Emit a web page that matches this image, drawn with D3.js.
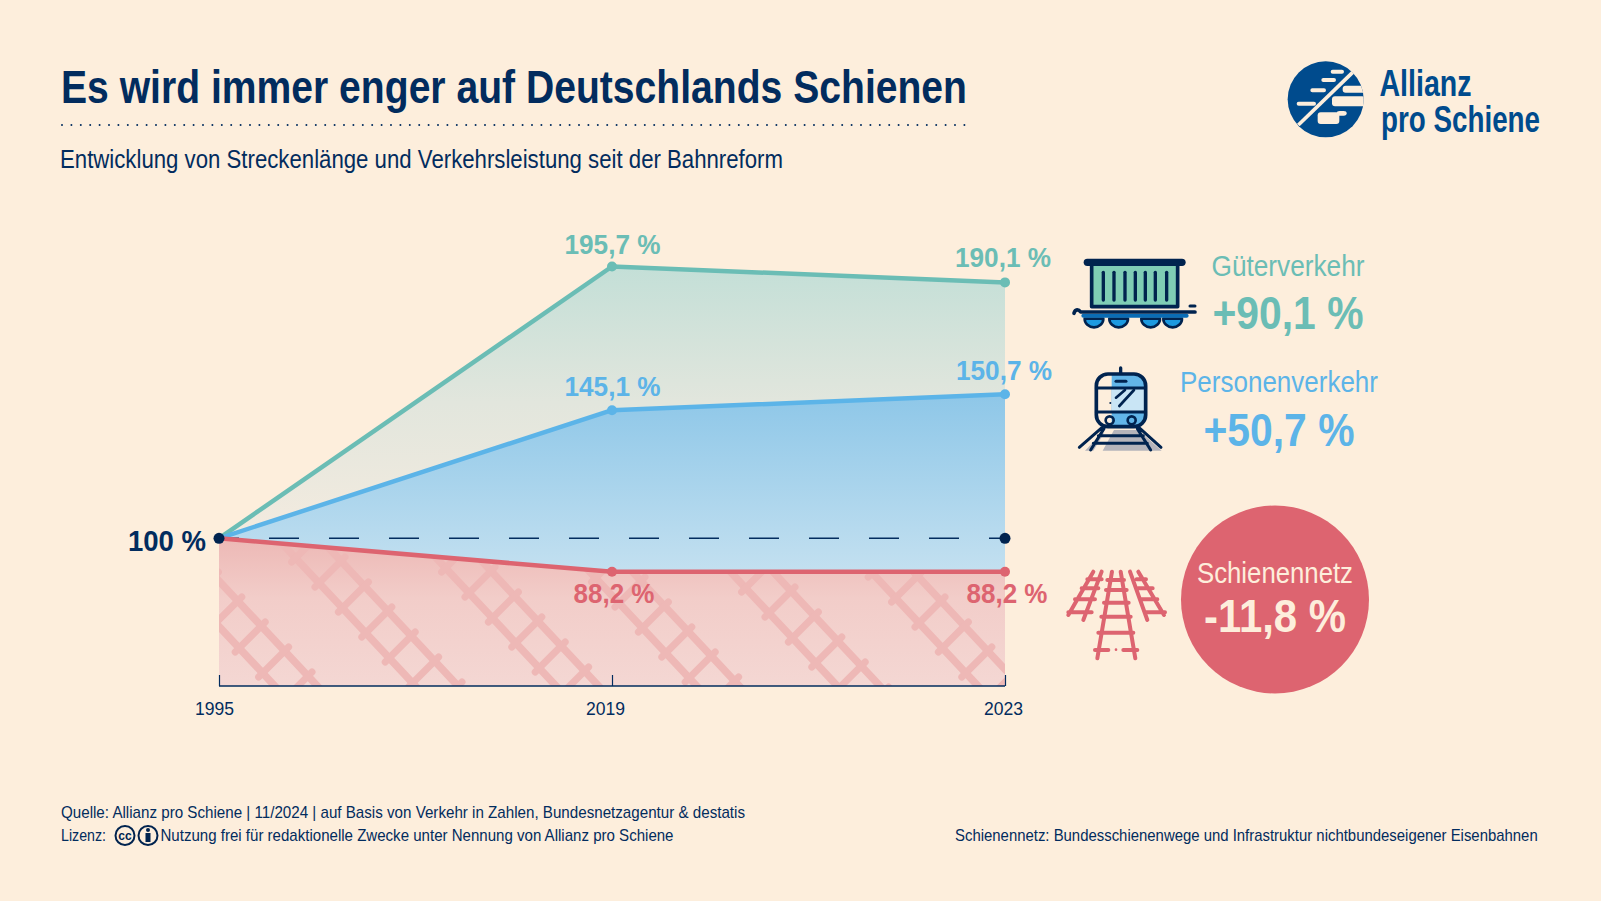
<!DOCTYPE html>
<html>
<head>
<meta charset="utf-8">
<script src="https://cdn.jsdelivr.net/npm/d3@7"></script>
<style>
  html, body { margin: 0; padding: 0; background: #fdeedc; }
  svg { display: block; }
  text { font-family: "Liberation Sans", sans-serif; }
</style>
</head>
<body>
<div class="chart"></div>
<script>
// DATA ------------------------------
const years = ["1995", "2019", "2023"];
const gueter = [100, 195.7, 190.1];
const personen = [100, 145.1, 150.7];
const netz = [100, 88.2, 88.2];
const basis = [100, 100, 100];

const title = "Es wird immer enger auf Deutschlands Schienen";
const subtitle = "Entwicklung von Streckenlänge und Verkehrsleistung seit der Bahnreform";
const source = "Quelle: Allianz pro Schiene | 11/2024 | auf Basis von Verkehr in Zahlen, Bundesnetzagentur & destatis";
const licence = "Nutzung frei für redaktionelle Zwecke unter Nennung von Allianz pro Schiene";
const note = "Schienennetz: Bundesschienenwege und Infrastruktur nichtbundeseigener Eisenbahnen";

const dark = "#022c5e", navy = "#00234f", green = "#6bbdb5", blue = "#5cb4e8", red = "#dd6470", cream = "#fdeedc";

// the source uses a condensed face, so squeeze the text to the measured width
function fit(sel, w) {
    return sel.attr("textLength", w).attr("lengthAdjust", "spacingAndGlyphs");
}

// CHART INIT ------------------------------
const svg = d3.select(".chart").append("svg")
    .attr("width", 1601)
    .attr("height", 901);

const defs = svg.append("defs");

function gradient(id, y1, y2, stops) {
    const g = defs.append("linearGradient")
        .attr("id", id)
        .attr("gradientUnits", "userSpaceOnUse")
        .attr("x1", 0).attr("x2", 0).attr("y1", y1).attr("y2", y2);
    stops.forEach(s => g.append("stop").attr("offset", s[0]).attr("stop-color", s[1]));
}
gradient("g-green", 265, 540, [[0, "#c3dfd7"], [0.5, "#e2e6dd"], [1, "#f4ebdf"]]);
gradient("g-blue", 395, 572, [[0, "#8ec7e8"], [1, "#c3e0f0"]]);
gradient("g-red", 540, 686, [[0, "#edb9b6"], [0.4, "#f2cdc9"], [1, "#f4d7d3"]]);

const xScale = d3.scalePoint()
    .domain(years)
    .range([219, 1005]);

const yScale = d3.scaleLinear()
    .domain([48, 195.7])
    .range([686, 266.5]);

const rows = years.map((y, i) => ({ year: y, g: gueter[i], p: personen[i], n: netz[i], b: basis[i] }));

const area = (top, bottom) => d3.area()
    .x(d => xScale(d.year))
    .y0(bottom)
    .y1(d => yScale(d[top]));

svg.append("path").datum(rows).attr("fill", "url(#g-green)")
    .attr("d", area("g", d => yScale(d.p)));
svg.append("path").datum(rows).attr("fill", "url(#g-blue)")
    .attr("d", area("p", d => yScale(d.n)));
const redArea = area("n", () => yScale.range()[0]);
svg.append("path").datum(rows).attr("fill", "url(#g-red)")
    .attr("d", redArea);

// tracks in the red area
defs.append("clipPath").attr("id", "clip-red")
    .append("path").datum(rows).attr("d", redArea);

const tracks = svg.append("g")
    .attr("clip-path", "url(#clip-red)")
    .attr("fill", "none")
    .attr("stroke", "#eeb8b6")
    .attr("stroke-linecap", "round");

[-1, 0, 1, 2, 3, 4].forEach(i => {
    const ox = 315 + 150 * i, oy = 587 + 10 * i;   // first tie of this track
    const dirX = 23.4, dirY = 25;
    const t = tracks.append("g").attr("transform", `translate(${ox},${oy})`);
    // rails
    [[4, -4], [26, -26]].forEach(r => {
        t.append("line")
            .attr("x1", r[0] - dirX * 4).attr("y1", r[1] - dirY * 4)
            .attr("x2", r[0] + dirX * 8).attr("y2", r[1] + dirY * 8)
            .attr("stroke-width", 7.5);
    });
    // ties
    d3.range(-4, 8).forEach(k => {
        t.append("line")
            .attr("x1", dirX * k).attr("y1", dirY * k)
            .attr("x2", dirX * k + 30).attr("y2", dirY * k - 30)
            .attr("stroke-width", 7);
    });
});

// reference line
svg.append("path").datum(rows)
    .attr("fill", "none")
    .attr("stroke", dark)
    .attr("stroke-width", 1.5)
    .attr("stroke-dasharray", "30 30")
    .attr("stroke-dashoffset", 10)
    .attr("d", d3.line().x(d => xScale(d.year)).y(d => yScale(d.b)));

// axis
const labelShift = [-5, -7, -2];
const xAxis = svg.append("g")
    .attr("transform", "translate(0,686)")
    .call(d3.axisBottom(xScale).tickSize(-11).tickPadding(0));
xAxis.select(".domain").attr("stroke", dark).attr("stroke-width", 1.3).attr("d", "M219,0H1005");
xAxis.selectAll(".tick line").attr("stroke", dark).attr("stroke-width", 1.2);
fit(xAxis.selectAll(".tick text"), 39)
    .attr("fill", dark)
    .attr("font-size", 19)
    .attr("text-anchor", "middle")
    .attr("dx", (d, i) => labelShift[i])
    .attr("y", 29)
    .attr("dy", 0);

// series
const series = [
    { values: gueter, color: green, width: 96, labelY: [254, 267], labelX: [612.5, 1003] },
    { values: personen, color: blue, width: 96, labelY: [396, 380], labelX: [612.5, 1004] },
    { values: netz, color: red, width: 81, labelY: [603, 603], labelX: [614, 1007] }
];
const fmt = v => String(v).replace(".", ",") + " %";

series.forEach(s => {
    svg.append("path").datum(s.values)
        .attr("fill", "none")
        .attr("stroke", s.color)
        .attr("stroke-width", 4.5)
        .attr("stroke-linejoin", "round")
        .attr("d", d3.line().x((d, i) => xScale(years[i])).y(d => yScale(d)));
});
series.forEach(s => {
    years.forEach((y, i) => {
        if (i == 0) return;
        svg.append("circle")
            .attr("cx", xScale(y))
            .attr("cy", yScale(s.values[i]))
            .attr("r", 5)
            .attr("fill", s.color);
        fit(svg.append("text"), s.width)
            .attr("x", s.labelX[i - 1])
            .attr("y", s.labelY[i - 1])
            .attr("text-anchor", "middle")
            .attr("font-size", 28)
            .attr("font-weight", 700)
            .attr("fill", s.color)
            .text(fmt(s.values[i]));
    });
});

svg.selectAll(".base-dot")
    .data([years[0], years[2]])
    .join("circle")
    .attr("class", "base-dot")
    .attr("cx", d => xScale(d))
    .attr("cy", yScale(100))
    .attr("r", 5.5)
    .attr("fill", navy);

fit(svg.append("text"), 78)
    .attr("x", 206).attr("y", 551)
    .attr("text-anchor", "end")
    .attr("font-size", 30)
    .attr("font-weight", 700)
    .attr("fill", dark)
    .text("100 %");

// HEADER ------------------------------
fit(svg.append("text"), 906)
    .attr("x", 61).attr("y", 103)
    .attr("font-size", 46)
    .attr("font-weight", 700)
    .attr("fill", dark)
    .text(title);

svg.append("line")
    .attr("x1", 62).attr("x2", 965)
    .attr("y1", 125).attr("y2", 125)
    .attr("stroke", dark)
    .attr("stroke-width", 2)
    .attr("stroke-linecap", "round")
    .attr("stroke-dasharray", "0 9.4");

fit(svg.append("text"), 723)
    .attr("x", 60).attr("y", 167.5)
    .attr("font-size", 25)
    .attr("fill", dark)
    .text(subtitle);

// LEGEND ------------------------------
function legend(name, value, color, x, y1, y2, w1, w2) {
    fit(svg.append("text"), w1).attr("x", x).attr("y", y1)
        .attr("text-anchor", "middle").attr("font-size", 30)
        .attr("fill", color).text(name);
    fit(svg.append("text"), w2).attr("x", x).attr("y", y2)
        .attr("text-anchor", "middle").attr("font-size", 46).attr("font-weight", 700)
        .attr("fill", color).text(value);
}
const delta = v => (v >= 100 ? "+" : "-") + fmt(Math.round(Math.abs(v - 100) * 10) / 10);
legend("Güterverkehr", delta(gueter[2]), green, 1288, 276, 329, 153, 151);
legend("Personenverkehr", delta(personen[2]), blue, 1279, 392, 446, 198, 151);

svg.append("circle").attr("cx", 1275).attr("cy", 599.5).attr("r", 94).attr("fill", red);
legend("Schienennetz", delta(netz[2]), cream, 1275, 582.5, 632, 156, 142);

// wagon icon
const wagon = svg.append("g").attr("transform", "translate(1030,230) scale(0.3333)")
    .attr("fill", "none").attr("stroke-linecap", "round").attr("stroke-linejoin", "round");
wagon.append("rect").attr("x", 185).attr("y", 100).attr("width", 258).attr("height", 130)
    .attr("fill", "#7fcdb5").attr("stroke", navy).attr("stroke-width", 11);
wagon.append("line").attr("x1", 172).attr("x2", 456).attr("y1", 97).attr("y2", 97)
    .attr("stroke", navy).attr("stroke-width", 22);
[220, 252, 285, 316, 346, 376, 410].forEach(x => {
    wagon.append("line").attr("x1", x).attr("x2", x).attr("y1", 127).attr("y2", 210)
        .attr("stroke", navy).attr("stroke-width", 10);
});
[192, 266, 362, 428].forEach(x => {
    wagon.append("path").attr("d", `M${x - 28},266A28,26 0 0,0 ${x + 28},266Z`)
        .attr("fill", "#1d9ae0").attr("stroke", navy).attr("stroke-width", 8);
});
wagon.append("line").attr("x1", 160).attr("x2", 470).attr("y1", 257).attr("y2", 257)
    .attr("stroke", "#0a6cb5").attr("stroke-width", 12);
wagon.append("path").attr("d", "M132,250C136,236 146,238 152,246H495")
    .attr("stroke", navy).attr("stroke-width", 11);
wagon.append("line").attr("x1", 480).attr("x2", 495).attr("y1", 228).attr("y2", 228)
    .attr("stroke", navy).attr("stroke-width", 9);

// train icon
const train = svg.append("g").attr("transform", "translate(1030,230) scale(0.3333)")
    .attr("fill", "none").attr("stroke-linecap", "round").attr("stroke-linejoin", "round");
train.append("path").attr("d", "M218,662L252,600H325L395,662Z").attr("fill", "#b5b4bb");
train.append("path").attr("d", "M165,662L215,610H222L190,662Z").attr("fill", "#b5b4bb");
train.append("path").attr("d", "M245,432H305Q347,432 347,470V548H245Z").attr("fill", "#62b5e8");
train.append("rect").attr("x", 245).attr("y", 472).attr("width", 102).attr("height", 72).attr("fill", "#c9e5f5");
train.append("path").attr("d", "M245,548H347V560Q347,590 310,590H245Z").attr("fill", "#62b5e8");
train.append("rect").attr("x", 199).attr("y", 432).attr("width", 148).attr("height", 158).attr("rx", 35)
    .attr("stroke", navy).attr("stroke-width", 11);
train.append("line").attr("x1", 272).attr("x2", 272).attr("y1", 414).attr("y2", 430).attr("stroke", navy).attr("stroke-width", 10);
train.append("line").attr("x1", 258).attr("x2", 288).attr("y1", 454).attr("y2", 454).attr("stroke", navy).attr("stroke-width", 9);
train.append("line").attr("x1", 199).attr("x2", 347).attr("y1", 474).attr("y2", 474).attr("stroke", navy).attr("stroke-width", 9);
train.append("line").attr("x1", 199).attr("x2", 347).attr("y1", 546).attr("y2", 546).attr("stroke", navy).attr("stroke-width", 9);
train.append("path").attr("d", "M258,503L285,480M268,528L312,480").attr("stroke", navy).attr("stroke-width", 8);
train.append("circle").attr("cx", 241).attr("cy", 519).attr("r", 3).attr("fill", navy);
[239, 305].forEach(x => {
    train.append("circle").attr("cx", x).attr("cy", 571).attr("r", 12).attr("stroke", navy).attr("stroke-width", 8);
});
train.append("path").attr("d", "M215,594L148,652M328,594L393,652M222,596L182,660M322,596L362,660M205,617H340M190,640H352")
    .attr("stroke", navy).attr("stroke-width", 9);

// rails icon
const rails = svg.append("g").attr("transform", "translate(1030,480) scale(0.3333)")
    .attr("fill", "none").attr("stroke", red).attr("stroke-width", 12).attr("stroke-linecap", "round");
rails.append("path").attr("d", "M246,275L202,535M272,275L316,535M195,510H235M280,510H322M205,458H310M214,410H302M222,368H296M228,330H290M232,300H282");
rails.append("path").attr("d", "M215,275L160,420M190,275L115,405M115,397H185M135,358H195M155,325H205M172,298H215");
rails.append("path").attr("d", "M300,275L352,420M325,275L402,405M320,298H348M325,325H368M332,358H382M345,397H405");
rails.append("circle").attr("cx", 258).attr("cy", 509).attr("r", 4).attr("fill", red).attr("stroke", "none");

// LOGO ------------------------------
const logoBlue = "#004b8d";
const logo = svg.append("g").attr("transform", "translate(1280,55) scale(0.3333)");
defs.append("clipPath").attr("id", "clip-logo")
    .append("circle").attr("cx", 137).attr("cy", 133).attr("r", 114);
logo.append("circle").attr("cx", 137).attr("cy", 133).attr("r", 114).attr("fill", logoBlue);
logo.append("path").attr("d", "M55,210L218,52")
    .attr("stroke", cream).attr("stroke-width", 11);
logo.append("path")
    .attr("d", "M158,50H186M130,75H162M97,106H132M56,146H102")
    .attr("stroke", cream).attr("stroke-width", 12).attr("stroke-linecap", "round");
const logoBlocks = logo.append("g").attr("clip-path", "url(#clip-logo)").attr("fill", cream);
[[188, 92, 70, 21], [156, 124, 100, 30], [113, 172, 65, 35], [170, 168, 30, 14]].forEach(b => {
    logoBlocks.append("rect").attr("x", b[0]).attr("y", b[1]).attr("width", b[2]).attr("height", b[3]).attr("rx", 9);
});
fit(svg.append("text"), 92).attr("x", 1379.5).attr("y", 96)
    .attr("font-size", 36).attr("font-weight", 700).attr("fill", logoBlue).text("Allianz");
fit(svg.append("text"), 159).attr("x", 1381).attr("y", 131.5)
    .attr("font-size", 36).attr("font-weight", 700).attr("fill", logoBlue).text("pro Schiene");

// FOOTER ------------------------------
fit(svg.append("text"), 684).attr("x", 61).attr("y", 818)
    .attr("font-size", 17).attr("fill", dark).text(source);
fit(svg.append("text"), 45).attr("x", 61).attr("y", 841)
    .attr("font-size", 17).attr("fill", dark).text("Lizenz:");
fit(svg.append("text"), 513).attr("x", 160.5).attr("y", 841)
    .attr("font-size", 17).attr("fill", dark).text(licence);

// scaled instead of textLength, this line runs close to the right edge
const noteText = svg.append("text")
    .attr("font-size", 17).attr("fill", dark).text(note);
noteText.attr("transform", `translate(955,841) scale(${583 / noteText.node().getComputedTextLength()},1)`);

// cc badges
[125, 148].forEach((x, i) => {
    svg.append("circle").attr("cx", x).attr("cy", 835.5).attr("r", 9.5)
        .attr("fill", "none").attr("stroke", navy).attr("stroke-width", 2);
    if (i == 0) {
        svg.append("text").attr("x", x).attr("y", 840).attr("text-anchor", "middle")
            .attr("font-size", 12).attr("font-weight", 700).attr("fill", navy).text("cc");
    } else {
        svg.append("circle").attr("cx", x).attr("cy", 830).attr("r", 2).attr("fill", navy);
        svg.append("rect").attr("x", x - 2.5).attr("y", 833).attr("width", 5).attr("height", 9).attr("fill", navy);
    }
});
</script>
</body>
</html>
